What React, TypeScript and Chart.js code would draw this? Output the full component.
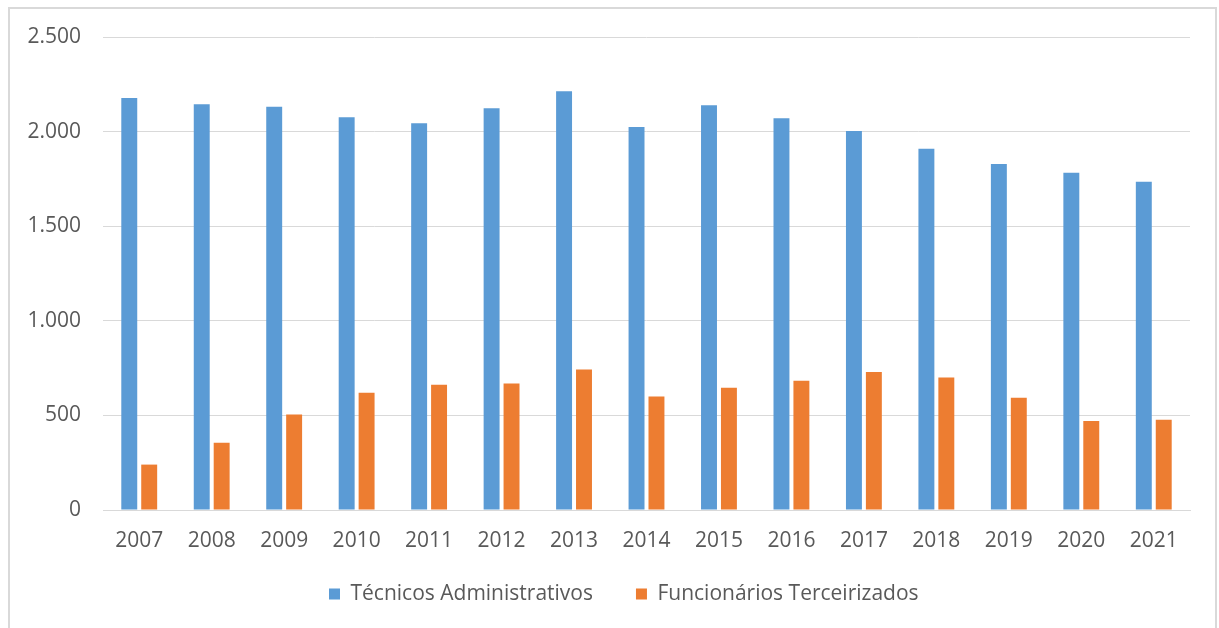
import React, { useEffect, useRef } from "react";
import { Chart, registerables } from "chart.js";

Chart.register(...registerables);

const years = ["2007", "2008", "2009", "2010", "2011", "2012", "2013", "2014", "2015", "2016", "2017", "2018", "2019", "2020", "2021"];
const tecnicos = [2178, 2145, 2132, 2076, 2044, 2124, 2213, 2024, 2139, 2071, 2003, 1909, 1829, 1783, 1735];
const terceirizados = [240, 356, 505, 620, 662, 668, 742, 600, 646, 683, 730, 700, 593, 471, 477];
const yTickLabels = ["0", "500", "1.000", "1.500", "2.000", "2.500"];
const seriesNames = ["Técnicos Administrativos", "Funcionários Terceirizados"];

const FONT = { family: "'Open Sans', sans-serif", size: 21 };
const TEXT = "#595959";
const GRID = "#d9d9d9";

const legendPlace = {
  id: "legendPlace",
  afterLayout(chart: any) {
    const lg = chart.legend;
    if (!lg) return;
    const pad = lg.options.labels.padding;
    const ih = lg._itemHeight || FONT.size;
    const dx = 329 - (lg.left + pad);
    lg.left += dx;
    lg.right += dx;
    const dy = 594 - (lg.top + pad + ih / 2);
    lg.top += dy;
    lg.bottom += dy;
  },
};

export default function App() {
  const ref = useRef<HTMLCanvasElement>(null);
  useEffect(() => {
    if (!ref.current) return;
    const chart = new Chart(ref.current, {
      type: "bar",
      data: {
        labels: years,
        datasets: [
          { label: seriesNames[0], data: tecnicos, backgroundColor: "#5B9BD5", barPercentage: 0.8, categoryPercentage: 0.55 },
          { label: seriesNames[1], data: terceirizados, backgroundColor: "#ED7D31", barPercentage: 0.8, categoryPercentage: 0.55 },
        ],
      },
      options: {
        animation: false,
        responsive: false,
        layout: { padding: { top: 37, right: 29, left: 0, bottom: 0 } },
        plugins: {
          title: { display: false },
          tooltip: { enabled: false },
          legend: {
            position: "bottom",
            align: "start",
            labels: { font: FONT, color: TEXT, boxWidth: 11, boxHeight: 11, padding: 43 },
          },
        },
        scales: {
          x: {
            grid: { display: false, drawTicks: false },
            border: { display: true, color: GRID, width: 1 },
            ticks: { font: FONT, color: TEXT, padding: 18, maxRotation: 0 },
            afterFit: (s: any) => { s.height = 44; },
          },
          y: {
            min: 0,
            max: 2500,
            grid: { color: GRID, lineWidth: 1, drawTicks: false },
            border: { display: false },
            ticks: {
              stepSize: 500,
              font: FONT,
              color: TEXT,
              padding: 22,
              callback: (_v: any, i: number) => yTickLabels[i],
            },
            afterFit: (s: any) => { s.width = 103; },
          },
        },
      },
      plugins: [legendPlace],
    });
    return () => chart.destroy();
  }, []);

  return (
    <div style={{ position: "fixed", left: 0, top: 0, width: 1219, height: 628, background: "#fff", overflow: "hidden" }}>
      <div
        style={{
          position: "absolute",
          left: 8,
          top: 7,
          width: 1209,
          height: 700,
          border: "2px solid #d9d9d9",
          boxSizing: "border-box",
        }}
      />
      <canvas ref={ref} width={1219} height={628} style={{ position: "absolute", left: 0, top: 0, width: 1219, height: 628 }} />
    </div>
  );
}
